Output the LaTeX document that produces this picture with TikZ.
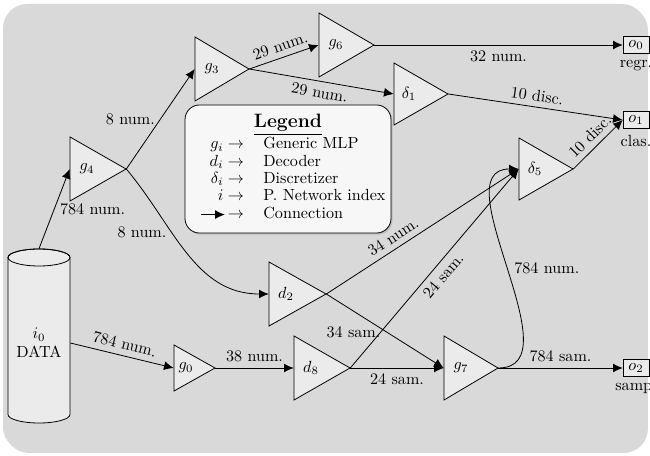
\documentclass[tikz,border=0pt]{standalone}
\usetikzlibrary{arrows.meta,shadows}
\definecolor{bggray}{HTML}{D9D9D9}
\definecolor{shapegray}{HTML}{EBEBEB}
\definecolor{legendgray}{HTML}{F7F7F7}
\tikzset{
  conn/.style={draw=black, line width=0.5pt, -{Latex[length=6pt,width=5.5pt]}},
  trishape/.style={draw=black, fill=shapegray, line width=0.5pt},
  tribox/.style={inner sep=0pt, draw=none},
  trilabel/.style={inner sep=1pt},
  outbox/.style={draw=black, fill=shapegray, line width=0.5pt, inner sep=2pt, minimum width=16pt, minimum height=10.5pt},
  legendbox/.style={draw=black, fill=legendgray, line width=0.5pt, rounded corners=9pt,
    minimum width=127.7pt, minimum height=79.4pt, inner sep=2pt, align=center,
    drop shadow={opacity=0.3, shadow xshift=1pt, shadow yshift=-1pt}},
  bgshape/.style={fill=bggray, rounded corners=15pt,
    drop shadow={opacity=0.3, shadow xshift=1.2pt, shadow yshift=-1.2pt}},
  cylshape/.style={draw=black, fill=shapegray, line width=0.5pt},
}
% name, left x, centre y, width, height, label, label offset
\newcommand\mytri[7]{%
  \filldraw[trishape] (#2,#3-#5/2) -- (#2+#4,#3) -- (#2,#3+#5/2) -- cycle;
  \node[tribox, minimum width=#4*0.62pt, minimum height=#5*0.62pt] (#1) at (#2+#4/2,#3) {};
  \node[trilabel] (#1t) at (#2+#7,#3) {#6};
}
\begin{document}
\begin{tikzpicture}[x=0.62pt,y=-0.62pt]
\useasboundingbox (0,0) rectangle (650,456);
\clip (0,0) rectangle (650,456);
% background panel
\fill[bgshape] (3,4) rectangle (646,451);

% data cylinder
\path[cylshape] (8,257.5) -- (8,414.5)
  arc[start angle=180, end angle=360, x radius=19.22pt, y radius=5.27pt]
  -- (70,257.5)
  arc[start angle=0, end angle=180, x radius=19.22pt, y radius=5.27pt] -- cycle;
\draw[line width=0.5pt] (39,257.5) ellipse [x radius=19.22pt, y radius=5.27pt];
\node[inner sep=0pt, minimum width=62*0.62pt, minimum height=188*0.62pt, align=center] (i0) at (39,343) {$i_0$\\DATA};

% triangles
\mytri{g4}{70}{169}{56}{64}{$g_4$}{17}
\mytri{g3}{195}{69}{54}{64}{$g_3$}{17}
\mytri{g6}{319}{45}{55}{64}{$g_6$}{17}
\mytri{d1}{394}{94}{54}{62}{$\delta_1$}{15}
\mytri{d5}{519}{169}{54}{62}{$\delta_5$}{16}
\mytri{d2}{269}{294}{57}{64}{$d_2$}{17}
\mytri{d8}{294}{368}{56}{64}{$d_8$}{17}
\mytri{g7}{444}{368}{54}{64}{$g_7$}{17}
\mytri{g0}{174}{368}{41}{46}{$g_0$}{12}

% outputs
\node[outbox, label={[name=o0l, label distance=0.5pt]below:regr.}] (o0) at (636,45) {$o_0$};
\node[outbox, label={[name=o1l, label distance=0.5pt]below:clas.}] (o1) at (636,120) {$o_1$};
\node[outbox, label={[name=o2l, label distance=0.5pt]below:samp.}] (o2) at (636,368) {$o_2$};

% legend
\node[legendbox] (legend) at (288,169) {{\large\bfseries\underline{Legend}}\\[0pt]
\def\arraystretch{0.9}%
\begin{tabular}{@{\hspace{6pt}}r@{\hspace{12pt}}l@{}}
$g_i \rightarrow$ & Generic MLP\\
$d_i \rightarrow$ & Decoder\\
$\delta_i \rightarrow$ & Discretizer\\
$i \rightarrow$ & P. Network index\\
\tikz[baseline=-0.55ex]\draw[conn] (0pt,0pt) -- (15pt,0pt);\,$\rightarrow$ & Connection
\end{tabular}};

% connectors
\draw[conn] (i0.north) -- node[right] {784 num.} (g4.west);
\draw[conn] (g4.east) -- node[left] {8 num.} (g3.west);
\draw[conn] (g4.east) to[out=-50,in=180] node[pos=0.37,left] {8 num.} (d2.west);
\draw[conn] (g3.east) -- node[above,sloped] {29 num.} (g6.west);
\draw[conn] (g3.east) -- node[below,sloped] {29 num.} (d1.west);
\draw[conn] (g6.east) -- node[below] {32 num.} (o0.west);
\draw[conn] (d1.east) -- node[above,sloped] {10 disc.} (o1.west);
\draw[conn] (d5.east) -- node[above,sloped] {10 disc.} (o1.west);
\draw[conn] (d2.east) -- node[pos=0.38,above,sloped] {34 num.} (d5.west);
\draw[conn] (d8.east) -- node[pos=0.5,below,sloped] {24 sam.} (d5.west);
\draw[conn] (d2.east) -- node[pos=0.51,left] {34 sam.} (g7.west);
\draw[conn] (d8.east) -- node[below] {24 sam.} (g7.west);
\draw[conn] (g7.east) -- node[above] {784 sam.} (o2.west);
\draw[conn] (g7.east) to[out=0,in=180] node[right] {784 num.} (d5.west);
\draw[conn] (i0.east) -- node[above,sloped] {784 num.} (g0.west);
\draw[conn] (g0.east) -- node[above] {38 num.} (d8.west);
\end{tikzpicture}
\end{document}
